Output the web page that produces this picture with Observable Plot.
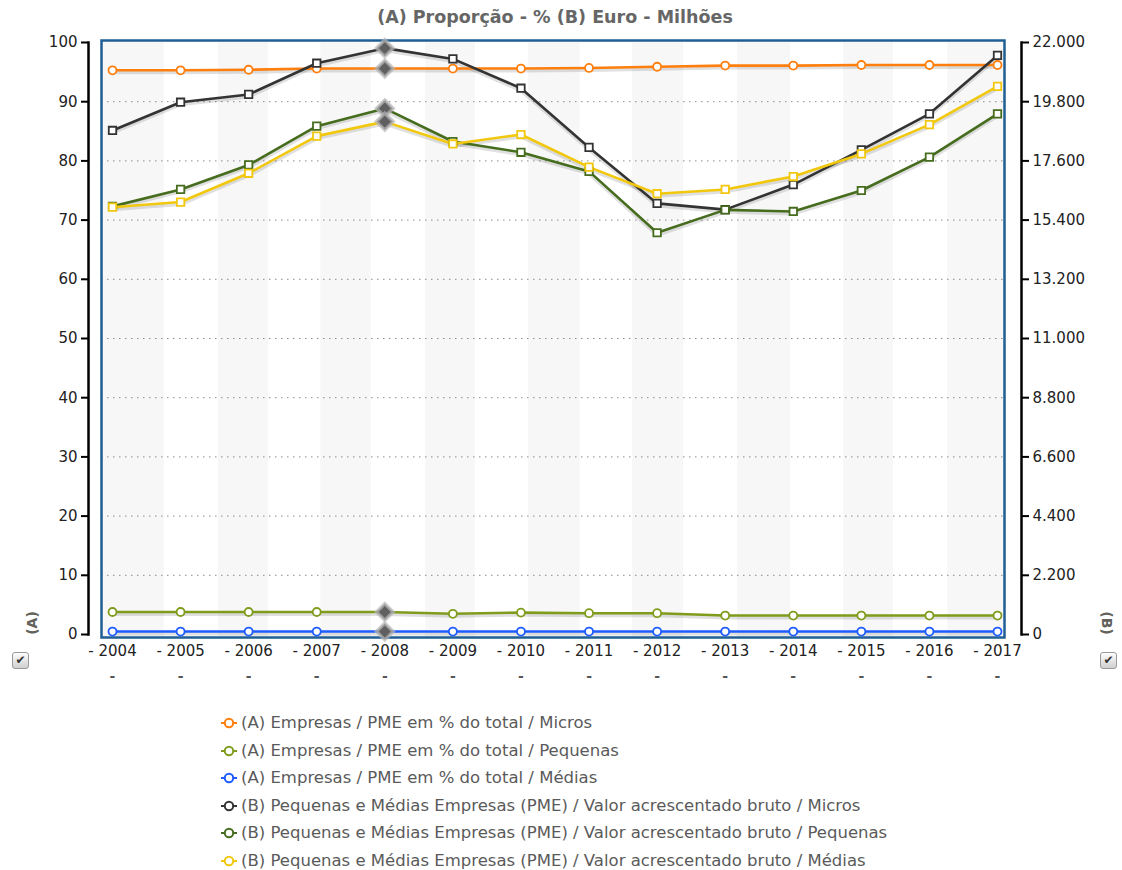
<!DOCTYPE html>
<html>
<head>
<meta charset="utf-8">
<script src="https://cdn.jsdelivr.net/npm/d3@7"></script>
<script src="https://cdn.jsdelivr.net/npm/@observablehq/plot@0.6"></script>
<style>
  body { margin: 0; background: #fff; font-family: "DejaVu Sans", Verdana, sans-serif; }
  #wrap { position: relative; width: 1122px; height: 870px; overflow: hidden; }
  #title { position: absolute; top: 6px; left: 0; width: 1110px; text-align: center; font-weight: bold; font-size: 17.5px; line-height: 22px; color: #666; }
  #chart { position: absolute; left: 0; top: 0; }
  .axt { position: absolute; font-weight: bold; font-size: 14px; color: #62625a; width: 40px; height: 18px; line-height: 18px; text-align: center; }
  .chk { position: absolute; width: 15px; height: 15px; border: 1px solid #9a9a9a; border-radius: 3px; background: linear-gradient(#fdfdfd, #cfcfcf); font-size: 12px; line-height: 15px; text-align: center; color: #333; }
  #legend { position: absolute; left: 220px; top: 712px; }
  .li { position: absolute; left: 0; white-space: nowrap; font-size: 16.5px; line-height: 22px; color: #5a5a5a; }
  .li svg { position: absolute; left: 0; top: 5px; }
  .li span { position: absolute; left: 21px; top: 0; }
</style>
</head>
<body>
<div id="wrap">
  <div id="title"></div>
  <div id="chart"></div>
  <div class="axt" id="axA" style="left:12px; top:614px; transform: rotate(-90deg);"></div>
  <div class="axt" id="axB" style="left:1087px; top:614px; transform: rotate(90deg);"></div>
  <div class="chk" style="left:12px; top:652px;">✔</div>
  <div class="chk" style="left:1100px; top:652px;">✔</div>
  <div id="legend"></div>
</div>
<script>
// ---------- data ----------
const titleText = "(A) Proporção - % (B) Euro - Milhões";
const axisTitleA = "(A)";
const axisTitleB = "(B)";
const years = [2004, 2005, 2006, 2007, 2008, 2009, 2010, 2011, 2012, 2013, 2014, 2015, 2016, 2017];
const leftTicks = [0, 10, 20, 30, 40, 50, 60, 70, 80, 90, 100];
const rightTickLabels = ["0", "2.200", "4.400", "6.600", "8.800", "11.000", "13.200", "15.400", "17.600", "19.800", "22.000"];
const gridTicks = [10, 20, 30, 40, 50, 60, 70, 80, 90];
const leftMax = 100;
const rightMax = 22000;
const highlightYear = 2008;

const seriesNames = [
  "(A) Empresas / PME em % do total / Micros",
  "(A) Empresas / PME em % do total / Pequenas",
  "(A) Empresas / PME em % do total / Médias",
  "(B) Pequenas e Médias Empresas (PME) / Valor acrescentado bruto / Micros",
  "(B) Pequenas e Médias Empresas (PME) / Valor acrescentado bruto / Pequenas",
  "(B) Pequenas e Médias Empresas (PME) / Valor acrescentado bruto / Médias"
];
const seriesAxis = ["A", "A", "A", "B", "B", "B"];
const seriesColors = ["#ff7f0e", "#7f9c1c", "#1f5cff", "#333333", "#466c1e", "#f2c80f"];

const aMicros   = [95.3, 95.3, 95.4, 95.6, 95.6, 95.6, 95.6, 95.7, 95.9, 96.1, 96.1, 96.2, 96.2, 96.2];
const aPequenas = [3.8, 3.8, 3.8, 3.8, 3.8, 3.5, 3.7, 3.6, 3.6, 3.2, 3.2, 3.2, 3.2, 3.2];
const aMedias   = [0.5, 0.5, 0.5, 0.5, 0.5, 0.5, 0.5, 0.5, 0.5, 0.5, 0.5, 0.5, 0.5, 0.5];
const bMicros   = [18730, 19780, 20070, 21230, 21790, 21390, 20300, 18100, 16020, 15790, 16720, 18010, 19350, 21520];
const bPequenas = [15910, 16540, 17450, 18890, 19550, 18320, 17920, 17210, 14930, 15780, 15720, 16500, 17740, 19350];
const bMedias   = [15880, 16070, 17140, 18520, 19060, 18230, 18580, 17370, 16380, 16540, 17020, 17860, 18950, 20370];
const seriesValues = [aMicros, aPequenas, aMedias, bMicros, bPequenas, bMedias];

// alternating background bands (in year units)
const bandStarts = [2003.84, 2005.56, 2007.06, 2008.60, 2010.11, 2011.64, 2013.18, 2014.74, 2016.27];
const bandEnds   = [2004.76, 2006.29, 2007.80, 2009.33, 2010.87, 2012.39, 2013.96, 2015.47, 2017.10];

// ---------- build table ----------
const factor = rightMax / leftMax;
const rows = [];
seriesValues.forEach((vals, s) => {
  vals.forEach((v, i) => {
    rows.push({
      year: years[i],
      y: seriesAxis[s] === "A" ? v : v / factor,
      series: seriesNames[s],
      color: seriesColors[s],
      axis: seriesAxis[s]
    });
  });
});
const bands = bandStarts.map((s, i) => ({x1: s, x2: bandEnds[i]}));

document.getElementById("title").textContent = titleText;
document.getElementById("axA").textContent = axisTitleA;
document.getElementById("axB").textContent = axisTitleB;

const plot = Plot.plot({
  width: 1122,
  height: 700,
  marginLeft: 112,
  marginRight: 125,
  marginTop: 42,
  marginBottom: 66,
  x: {domain: [years[0], years[years.length - 1]], axis: null},
  y: {domain: [0, leftMax], axis: null},
  color: {type: "identity"},
  style: {fontFamily: "'DejaVu Sans', Verdana, sans-serif", fontSize: "15px", background: "transparent", overflow: "visible"},
  marks: [
    Plot.rect(bands, {x1: "x1", x2: "x2", fill: "#f7f7f7", insetTop: -2, insetBottom: -3}),
    Plot.ruleY(gridTicks, {stroke: "#8a8a8a", strokeDasharray: "1.5,4.5", strokeWidth: 1, insetLeft: -11, insetRight: -7}),
    Plot.frame({stroke: "#1f5f94", strokeWidth: 2.5, insetLeft: -11, insetRight: -7, insetTop: -2, insetBottom: -3}),
    Plot.frame({anchor: "left", dx: -24, stroke: "#000", strokeWidth: 2.5}),
    Plot.frame({anchor: "right", dx: 24, stroke: "#000", strokeWidth: 2.5}),
    Plot.axisY({ticks: leftTicks, anchor: "left", dx: -24, tickSize: 7, tickPadding: 4, strokeWidth: 2, stroke: "#000", fill: "#222", tickFormat: d => String(d), label: null, fontSize: 15}),
    Plot.axisY({ticks: leftTicks, anchor: "right", dx: 24, tickSize: 7, tickPadding: 4, strokeWidth: 2, stroke: "#000", fill: "#222", tickFormat: d => rightTickLabels[leftTicks.indexOf(d)], label: null, fontSize: 15}),
    Plot.text(years, {x: d => d, text: d => "- " + d, frameAnchor: "bottom", dy: 21, fill: "#222", fontSize: 15}),
    Plot.text(years, {x: d => d, text: () => "-", frameAnchor: "bottom", dy: 46, fill: "#555", fontSize: 14, fontWeight: "bold"}),
    Plot.line(rows, {x: "year", y: "y", z: "series", stroke: "#000", strokeOpacity: 0.12, strokeWidth: 4, dy: 2}),
    Plot.line(rows, {x: "year", y: "y", z: "series", stroke: "color", strokeWidth: 2.6}),
    Plot.dot(rows.filter(d => d.axis === "A" && d.year !== highlightYear), {x: "year", y: "y", stroke: "color", fill: "#fff", r: 4, strokeWidth: 1.8}),
    Plot.dot(rows.filter(d => d.axis === "B" && d.year !== highlightYear), {x: "year", y: "y", stroke: "color", fill: "#fff", r: 4.2, symbol: "square", strokeWidth: 1.8}),
    Plot.dot(rows.filter(d => d.year === highlightYear), {x: "year", y: "y", symbol: "diamond2", r: 7.5, fill: "#5f5f5f", stroke: "#b5b5b5", strokeOpacity: 0.7, strokeWidth: 3.5})
  ]
});
document.getElementById("chart").appendChild(plot);

// ---------- legend ----------
const legend = document.getElementById("legend");
seriesNames.forEach((name, i) => {
  const item = document.createElement("div");
  item.className = "li";
  item.style.top = (i * 27.5) + "px";
  item.innerHTML = `<svg width="18" height="12"><line x1="1" x2="17" y1="6" y2="6" stroke="${seriesColors[i]}" stroke-width="2"/><circle cx="9" cy="6" r="4.2" fill="#fff" stroke="${seriesColors[i]}" stroke-width="2"/></svg>`;
  const span = document.createElement("span");
  span.textContent = name;
  item.appendChild(span);
  legend.appendChild(item);
});
</script>
</body>
</html>
